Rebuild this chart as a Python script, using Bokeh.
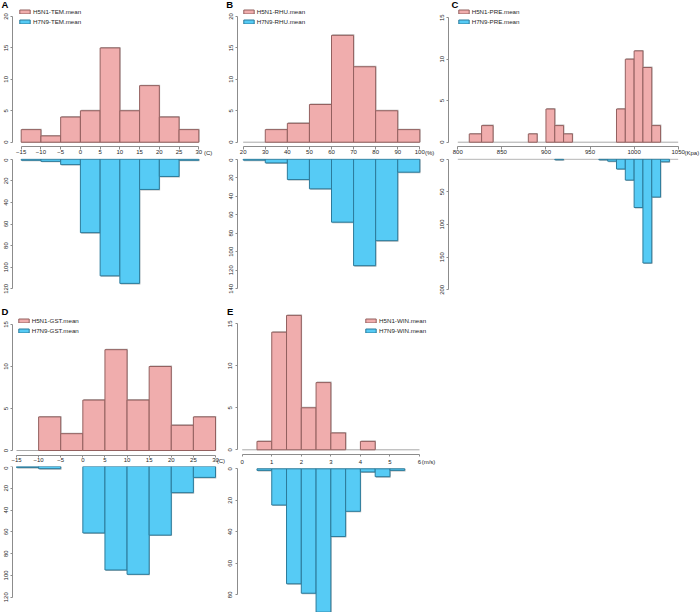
from bokeh.plotting import figure
from bokeh.models import Range1d, Legend, LegendItem, FixedTicker
from bokeh.layouts import row, column
from bokeh.embed import file_html
from bokeh.resources import INLINE

# ---------------- data ----------------
TEM_edges = [-15, -10, -5, 0, 5, 10, 15, 20, 25, 30]
H5N1_TEM = [2, 1, 4, 5, 15, 5, 9, 4, 2]
H7N9_TEM = [1, 2, 5, 68, 108, 115, 28, 16, 1]

RHU_edges = [20, 30, 40, 50, 60, 70, 80, 90, 100]
H5N1_RHU = [0, 2, 3, 6, 17, 12, 5, 2]
H7N9_RHU = [1, 4, 22, 32, 68, 115, 88, 14]

PRE_H5N1_left = [813, 827, 880, 900, 910, 920, 980, 990, 1000, 1010, 1020]
PRE_H5N1_right = [827, 840, 890, 910, 920, 930, 990, 1000, 1010, 1020, 1030]
H5N1_PRE = [1, 2, 1, 4, 2, 1, 4, 10, 11, 9, 2]
PRE_H7N9_left = [910, 960, 970, 980, 990, 1000, 1010, 1020, 1030]
PRE_H7N9_right = [920, 970, 980, 990, 1000, 1010, 1020, 1030, 1040]
H7N9_PRE = [1, 1, 3, 15, 32, 74, 159, 58, 4]

GST_edges = [-15, -10, -5, 0, 5, 10, 15, 20, 25, 30]
H5N1_GST = [0, 4, 2, 6, 12, 6, 10, 3, 4]
H7N9_GST = [1, 2, 0, 61, 95, 99, 63, 24, 10]

WIN_edges = [0, 0.5, 1, 1.5, 2, 2.5, 3, 3.5, 4, 4.5, 5, 5.5, 6]
H5N1_WIN = [0, 1, 14, 16, 5, 8, 2, 0, 1, 0, 0, 0]
H7N9_WIN = [0, 1, 23, 73, 79, 91, 43, 27, 2, 5, 1, 0]

TEM_ticks = [-15, -10, -5, 0, 5, 10, 15, 20, 25, 30]
RHU_ticks = [20, 30, 40, 50, 60, 70, 80, 90, 100]
PRE_ticks = [800, 850, 900, 950, 1000, 1050]
WIN_ticks = [0, 1, 2, 3, 4, 5, 6]

# ---------------- style ----------------
PINK, PINK_LINE = "#F0ADAD", "#93605F"
BLUE, BLUE_LINE = "#56CBF5", "#2C7B9B"
SHADOW = "#B8B8B8"
AXIS = "#8C8C8C"
TXT = "#262626"
FONT = "Liberation Sans"
TICK_FS = "6px"


def make_fig(region, axis_x, xaxis_y, xmap, ymap, x_axis, xticks, yticks, ystand,
             xtick_out=3, xstand=1):
    rx0, ry0, rx1, ry1 = region
    R0x, R1x, R0y, R1y = round(rx0), round(rx1), round(ry0), round(ry1)
    (xa, pxa), (xb, pxb) = xmap
    (ya, pya), (yb, pyb) = ymap

    def ix(s):
        return xa + (s - pxa) * (xb - xa) / (pxb - pxa)

    def iy(s):
        return ya + (s - pya) * (yb - ya) / (pyb - pya)

    p = figure(width=R1x - R0x, height=R1y - R0y, title=None,
               x_range=Range1d(ix(R0x), ix(R1x)),
               y_range=Range1d(iy(R1y), iy(R0y)),
               min_border=0, min_border_left=0, min_border_right=0,
               min_border_top=0, min_border_bottom=0,
               x_axis_location="below" if x_axis else None,
               output_backend="svg", toolbar_location=None, tools="")
    p.outline_line_color = None
    p.xgrid.visible = False
    p.ygrid.visible = False
    p.background_fill_color = "white"
    p.border_fill_color = "white"
    axes = list(p.yaxis) + (list(p.xaxis) if x_axis else [])
    for ax in axes:
        ax.axis_line_color = AXIS
        ax.major_tick_line_color = AXIS
        ax.minor_tick_line_color = None
        ax.major_tick_in = 0
        ax.major_label_text_font = FONT
        ax.major_label_text_font_size = TICK_FS
        ax.major_label_text_color = TXT
    for ax in p.yaxis:
        ax.ticker = FixedTicker(ticks=yticks)
        ax.bounds = (yticks[0], yticks[-1])
        ax.fixed_location = ix(axis_x)
        ax.major_label_orientation = "vertical"
        ax.major_tick_out = 2
        ax.major_label_standoff = ystand
    if x_axis:
        for ax in p.xaxis:
            ax.ticker = FixedTicker(ticks=xticks)
            ax.bounds = (xticks[0], xticks[-1])
            ax.fixed_location = iy(xaxis_y)
            ax.major_tick_out = xtick_out
            ax.major_label_standoff = xstand
    geo = dict(R0x=R0x, R1y=R1y,
               ppx=abs(pxb - pxa) / abs(xb - xa), ppy=abs(pyb - pya) / abs(yb - ya))
    return p, geo


def clean(lefts, rights, counts):
    L, R, C = [], [], []
    for a, b, c in zip(lefts, rights, counts):
        if c > 0:
            L.append(a)
            R.append(b)
            C.append(c)
    return L, R, C


def bars(p, geo, lefts, rights, counts, fill, line):
    L, R, C = clean(lefts, rights, counts)
    dx = 0.8 / geo["ppx"]
    dy = 1.0 / geo["ppy"]
    p.quad(left=[a + dx for a in L], right=[b + dx for b in R],
           top=[c + dy for c in C], bottom=0, fill_color=SHADOW, line_color=None)
    return p.quad(left=L, right=R, top=C, bottom=0, fill_color=fill,
                  line_color=line, line_width=1)


def baseline(p, x0, x1):
    p.segment(x0=[x0], x1=[x1], y0=[0], y1=[0], line_color="#A8A8A8", line_width=1)


def add_legend(p, geo, r1, r2, labels, box_left, center_y):
    ih, sp = 8, 2
    top = center_y - ih / 2.0
    bottom = top + 2 * ih + sp
    leg = Legend(items=[LegendItem(label=labels[0], renderers=[r1]),
                        LegendItem(label=labels[1], renderers=[r2])],
                 location=(box_left - geo["R0x"], geo["R1y"] - bottom),
                 padding=0, margin=0, spacing=sp, glyph_width=13, glyph_height=5,
                 label_height=ih, label_standoff=2, label_text_font=FONT,
                 label_text_font_size="6.2px", label_text_color=TXT,
                 inactive_fill_alpha=0,
                 background_fill_alpha=0, border_line_alpha=0)
    p.add_layout(leg)


def add_text(p, geo, dummy, text, left, center_y, size, bold=False, h=12):
    bottom = center_y + h / 2.0
    leg = Legend(items=[LegendItem(label=text, renderers=[dummy])],
                 location=(left - geo["R0x"], geo["R1y"] - bottom),
                 padding=0, margin=0, spacing=0, glyph_width=0, glyph_height=1,
                 label_height=h, label_standoff=0, label_text_font=FONT,
                 label_text_font_size=size, label_text_color="black" if bold else TXT,
                 label_text_font_style="bold" if bold else "normal",
                 background_fill_alpha=0, border_line_alpha=0)
    p.add_layout(leg)


def panel(spec):
    x0, x1 = spec["cols"]
    y0, ysplit, y1 = spec["rows"]
    top, gt = make_fig((x0, y0, x1, ysplit), spec["axis_x"], spec["xaxis_y"],
                       spec["xmap"], spec["ymap_top"], True, spec["xticks"],
                       spec["yticks_top"], spec["ystand"], spec["xtick_out"], spec["xstand"])
    bot, gb = make_fig((x0, ysplit, x1, y1), spec["axis_x"], None,
                       spec["xmap"], spec["ymap_bot"], False, spec["xticks"],
                       spec["yticks_bot"], spec["ystand"])
    baseline(top, spec["xticks"][0], spec["xticks"][-1])
    if spec.get("base_bot"):
        baseline(bot, spec["xticks"][0], spec["xticks"][-1])
    r1 = bars(top, gt, spec["l5"], spec["r5"], spec["c5"], PINK, PINK_LINE)
    bars(bot, gb, spec["l7"], spec["r7"], spec["c7"], BLUE, BLUE_LINE)
    L7, R7, C7 = clean(spec["l7"], spec["r7"], spec["c7"])
    # legend key for the lower (blue) series, not drawn in the upper panel itself
    r2 = top.quad(left=L7, right=R7, top=C7, bottom=0, fill_color=BLUE,
                  line_color=BLUE_LINE, line_width=1, visible=False)
    dummy = top.quad(left=[], right=[], top=[], bottom=[], fill_alpha=0, line_alpha=0)
    add_legend(top, gt, r1, r2, spec["labels"], *spec["legend"])
    lx, ly = spec["letter_pos"]
    add_text(top, gt, dummy, spec["letter"], lx, ly, "9.5px", bold=True, h=12)
    ux, uy = spec["unit_pos"]
    add_text(top, gt, dummy, spec["unit"], ux, uy, TICK_FS, h=9)
    return column(top, bot)


A = panel(dict(cols=(0, 222), rows=(0, 157.5, 300), axis_x=11.7, xaxis_y=145.7,
               xmap=((-15, 20.7), (30, 198.3)),
               ymap_top=((0, 141.7), (20, 16)), ymap_bot=((0, 158.7), (120, 288.3)),
               xticks=TEM_ticks, yticks_top=[0, 5, 10, 15, 20],
               yticks_bot=[0, 20, 40, 60, 80, 100, 120], ystand=2, xtick_out=3, xstand=1,
               l5=TEM_edges[:-1], r5=TEM_edges[1:], c5=H5N1_TEM,
               l7=TEM_edges[:-1], r7=TEM_edges[1:], c7=H7N9_TEM,
               labels=("H5N1-TEM.mean", "H7N9-TEM.mean"), legend=(18, 11.2),
               letter="A", letter_pos=(1.5, 4.4), unit="(C)", unit_pos=(204, 153)))

B = panel(dict(cols=(222, 437), rows=(0, 157.5, 300), axis_x=236.7, xaxis_y=145.7,
               xmap=((20, 242.7), (100, 419.3)),
               ymap_top=((0, 141.7), (20, 16)), ymap_bot=((0, 158.7), (140, 288.3)),
               xticks=RHU_ticks, yticks_top=[0, 5, 10, 15, 20],
               yticks_bot=[0, 20, 40, 60, 80, 100, 120, 140], ystand=2, xtick_out=3, xstand=1,
               l5=RHU_edges[:-1], r5=RHU_edges[1:], c5=H5N1_RHU,
               l7=RHU_edges[:-1], r7=RHU_edges[1:], c7=H7N9_RHU,
               labels=("H5N1-RHU.mean", "H7N9-RHU.mean"), legend=(241.7, 11.2),
               letter="B", letter_pos=(226.3, 4.4), unit="(%)", unit_pos=(425, 153)))

C = panel(dict(cols=(437, 700), rows=(0, 157.5, 300), axis_x=447.7, xaxis_y=145.7,
               xmap=((800, 457.3), (1050, 677.7)),
               ymap_top=((0, 141.7), (15, 17.2)), ymap_bot=((0, 158.7), (200, 289.3)),
               xticks=PRE_ticks, yticks_top=[0, 5, 10, 15],
               yticks_bot=[0, 50, 100, 150, 200], ystand=2, xtick_out=3, xstand=1,
               l5=PRE_H5N1_left, r5=PRE_H5N1_right, c5=H5N1_PRE,
               l7=PRE_H7N9_left, r7=PRE_H7N9_right, c7=H7N9_PRE,
               labels=("H5N1-PRE.mean", "H7N9-PRE.mean"), legend=(456.7, 11.2),
               letter="C", letter_pos=(451.5, 4.4), unit="(Kpa)", unit_pos=(684.5, 153),
               base_bot=True))

D = panel(dict(cols=(0, 226.5), rows=(300, 465.5, 612), axis_x=11.7, xaxis_y=455.3,
               xmap=((-15, 16), (30, 215)),
               ymap_top=((0, 450), (15, 324)), ymap_bot=((0, 466), (120, 596.7)),
               xticks=TEM_ticks, yticks_top=[0, 5, 10, 15],
               yticks_bot=[0, 20, 40, 60, 80, 100, 120], ystand=2, xtick_out=2, xstand=0,
               l5=GST_edges[:-1], r5=GST_edges[1:], c5=H5N1_GST,
               l7=GST_edges[:-1], r7=GST_edges[1:], c7=H7N9_GST,
               labels=("H5N1-GST.mean", "H7N9-GST.mean"), legend=(16.7, 320.3),
               letter="D", letter_pos=(1.5, 311.7), unit="(C)", unit_pos=(216.7, 460.7)))

E = panel(dict(cols=(226.5, 700), rows=(300, 465.5, 612), axis_x=236.7, xaxis_y=454,
               xmap=((0, 241.7), (6, 419)),
               ymap_top=((0, 449.3), (15, 323.3)), ymap_bot=((0, 468.3), (80, 594.3)),
               xticks=WIN_ticks, yticks_top=[0, 5, 10, 15],
               yticks_bot=[0, 20, 40, 60, 80], ystand=3, xtick_out=2, xstand=3,
               l5=WIN_edges[:-1], r5=WIN_edges[1:], c5=H5N1_WIN,
               l7=WIN_edges[:-1], r7=WIN_edges[1:], c7=H7N9_WIN,
               labels=("H5N1-WIN.mean", "H7N9-WIN.mean"), legend=(364, 320.3),
               letter="E", letter_pos=(226.9, 311.7), unit="(m/s)", unit_pos=(421.7, 462.3)))

layout = column(row(A, B, C), row(D, E))

open("out.html", "w").write(file_html(layout, INLINE))
